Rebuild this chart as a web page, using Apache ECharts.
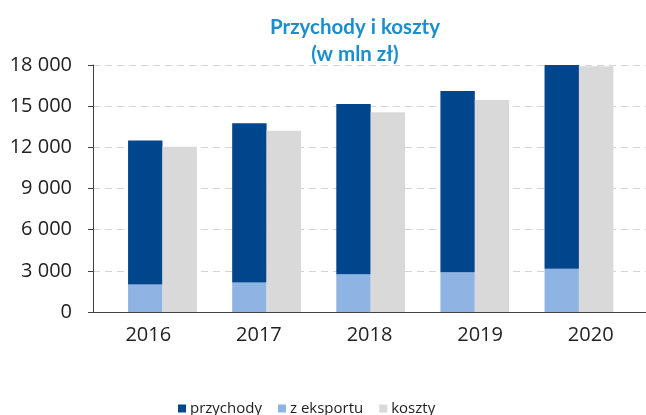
<!DOCTYPE html>
<html>
<head>
<meta charset="utf-8">
<script src="https://cdn.jsdelivr.net/npm/echarts@6/dist/echarts.min.js"></script>
<style>
  html, body { margin: 0; padding: 0; background: #fff; }
  #chart { width: 646px; height: 415px; }
</style>
</head>
<body>
<div id="chart"></div>
<script>
// data (mln zł)
const years = ['2016', '2017', '2018', '2019', '2020'];
const przychody = [12500, 13750, 15150, 16100, 18000];
const eksport = [2000, 2150, 2750, 2900, 3150];
const koszty = [12050, 13200, 14550, 15450, 17900];

const yMin = 0, yMax = 18000, yStep = 3000;

// dark part sits on top of the export part
const przychodyRest = przychody.map((v, i) => v - eksport[i]);

const fmt = v => String(v).replace(/\B(?=(\d{3})+(?!\d))/g, ' ');

const chart = echarts.init(document.getElementById('chart'));

const option = {
  animation: false,
  title: {
    text: 'Przychody i koszty\n(w mln zł)',
    left: 355,
    top: 14,
    padding: 0,
    textAlign: 'center',
    textStyle: {
      fontFamily: 'Lato',
      fontWeight: 'bold',
      fontSize: 20.5,
      lineHeight: 27,
      color: '#1a8fd0'
    }
  },
  legend: {
    data: ['przychody', 'z eksportu', 'koszty'],
    left: 178,
    top: 401,
    padding: 0,
    icon: 'rect',
    itemWidth: 8,
    itemHeight: 8,
    itemGap: 16,
    textStyle: { fontFamily: 'Open Sans', fontSize: 15, color: '#222', padding: [0, 0, 0, -1] }
  },
  grid: [
    // visible axes
    { left: 93, top: 65, width: 556, height: 247 },
    // bars (slightly narrower spacing than the ticks, as in the original)
    { left: 110.4, top: 65, width: 520.6, height: 247 }
  ],
  xAxis: [
    {
      type: 'category',
      gridIndex: 0,
      data: years,
      axisLine: { lineStyle: { color: '#404040', width: 1 } },
      axisTick: { length: 5, lineStyle: { color: '#404040' } },
      axisLabel: { margin: 13, fontFamily: 'Open Sans', fontSize: 20, color: '#222' }
    },
    {
      type: 'category',
      gridIndex: 1,
      data: years,
      show: false
    }
  ],
  yAxis: [
    {
      type: 'value',
      gridIndex: 0,
      min: yMin,
      max: yMax,
      interval: yStep,
      axisLine: { show: true, lineStyle: { color: '#404040', width: 1 } },
      axisTick: { show: true, length: 5, lineStyle: { color: '#404040' } },
      axisLabel: { margin: 21, fontFamily: 'Open Sans', fontSize: 20, color: '#222', formatter: fmt },
      splitLine: { lineStyle: { color: '#d4d4d4', type: [7, 5], width: 1 } }
    },
    {
      type: 'value',
      gridIndex: 1,
      min: yMin,
      max: yMax,
      show: false,
      splitLine: { show: false }
    }
  ],
  series: [
    {
      name: 'z eksportu',
      type: 'bar',
      xAxisIndex: 1,
      yAxisIndex: 1,
      stack: 'p',
      barWidth: 34.4,
      barGap: '0%',
      itemStyle: { color: '#8eb4e3' },
      data: eksport
    },
    {
      name: 'przychody',
      type: 'bar',
      xAxisIndex: 1,
      yAxisIndex: 1,
      stack: 'p',
      barWidth: 34.4,
      barGap: '0%',
      itemStyle: { color: '#00468c' },
      data: przychodyRest
    },
    {
      name: 'koszty',
      type: 'bar',
      xAxisIndex: 1,
      yAxisIndex: 1,
      barWidth: 34.4,
      barGap: '0%',
      itemStyle: { color: '#d9d9d9' },
      data: koszty
    }
  ]
};

chart.setOption(option);
</script>
</body>
</html>
